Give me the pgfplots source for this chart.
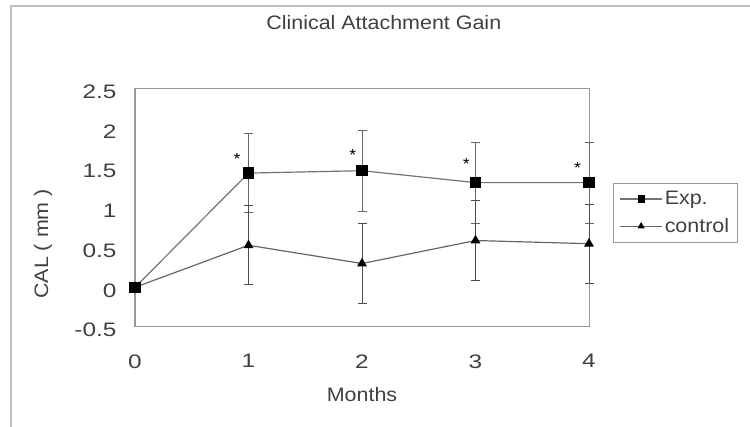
\documentclass[border=0pt]{standalone}
\usepackage{fontspec}
\setmainfont{Liberation Sans}[FakeStretch=1.1]
\newfontfamily\tickfamily{Liberation Sans}[FakeStretch=1.25]
\usepackage{pgfplots}
\pgfplotsset{compat=1.18}
\pgfplotstableread{
x y e
0 0 0
1 1.44 0.50
2 1.47 0.51
3 1.32 0.51
4 1.32 0.51
}\expdata
\pgfplotstableread{
x y e
0 0 0
1 0.53 0.50
2 0.30 0.50
3 0.59 0.50
4 0.55 0.50
}\ctrldata
\pgfplotstableread{
x y
0.90 1.62
1.92 1.67
2.92 1.55
3.90 1.50
}\stars
\newcommand\chartfont{\fontsize{19.5}{23}\selectfont}
\newcommand\tickfont{\tickfamily\fontsize{19.5}{23}\selectfont}
\newcommand\titlefont{\fontsize{19.5}{23}\selectfont}
\begin{document}
\begin{tikzpicture}[x=1pt,y=1pt,font=\chartfont]
\useasboundingbox (0,0) rectangle (750,427);
\draw[black!25, line width=1.5pt] (11,0) -- (11,421) -- (750,421);
\begin{axis}[
  at={(135pt,100pt)}, anchor=south west,
  scale only axis, width=454pt, height=238pt,
  xmin=0, xmax=4, ymin=-0.5, ymax=2.5,
  xtick={0,1,2,3,4}, xticklabels={0,1,2,3,4},
  ytick={-0.5,0,0.5,1,1.5,2,2.5},
  yticklabels={-0.5,0,0.5,1,1.5,2,2.5},
  major tick length=0pt,
  axis line style={black!40, line width=1pt},
  clip=false,
  /pgf/number format/assume math mode=true,
  tick label style={font=\tickfont, text=black!75},
  xticklabel style={yshift=-24pt},
  yticklabel style={xshift=-15pt, yshift=-3pt},
  title={Clinical Attachment Gain},
  title style={at={(axis description cs:0.548,1.256)}, anchor=center, text=black!75, font=\titlefont},
  xlabel={Months},
  xlabel style={at={(axis description cs:0.5,-0.284)}, anchor=center, text=black!75, font=\chartfont},
  ylabel={CAL ( mm )},
  ylabel style={at={(axis description cs:-0.2026,0.349)}, anchor=center, rotate=0, text=black!75, font=\chartfont},
  legend style={at={(axis description cs:1.053,0.605)}, anchor=north west, draw=black!40, line width=1pt,
    font=\chartfont, nodes={font=\chartfont, text=black!75}, inner xsep=6pt, inner ysep=6pt, row sep=8pt, cells={anchor=west}},
  legend image code/.code={\draw[mark repeat=2,mark phase=2,#1,mark size=3pt] plot coordinates {(0pt,0pt) (21pt,0pt) (42pt,0pt)};},
]
\addplot[black!55, line width=1.2pt, mark=square*, mark size=5pt, mark options={black, solid},
  error bars/.cd, y dir=both, y explicit,
  error bar style={black!60, line width=1pt},
  error mark options={rotate=90, mark size=4.5pt, black!60, line width=1pt}]
  table[x=x, y=y, y error=e] {\expdata};
\addlegendentry{Exp.}
\addplot[black!60, line width=1.2pt, mark=triangle*, mark size=4.5pt, mark options={black, solid},
  error bars/.cd, y dir=both, y explicit,
  error bar style={black!70, line width=1pt},
  error mark options={rotate=90, mark size=4.5pt, black!70, line width=1pt}]
  table[x=x, y=y, y error=e] {\ctrldata};
\addlegendentry{control}
\addplot[forget plot, only marks, mark=text, text mark={\fontsize{16}{18}\selectfont *}, mark options={black!75}]
  table[x=x, y=y] {\stars};
\end{axis}
\end{tikzpicture}
\end{document}
